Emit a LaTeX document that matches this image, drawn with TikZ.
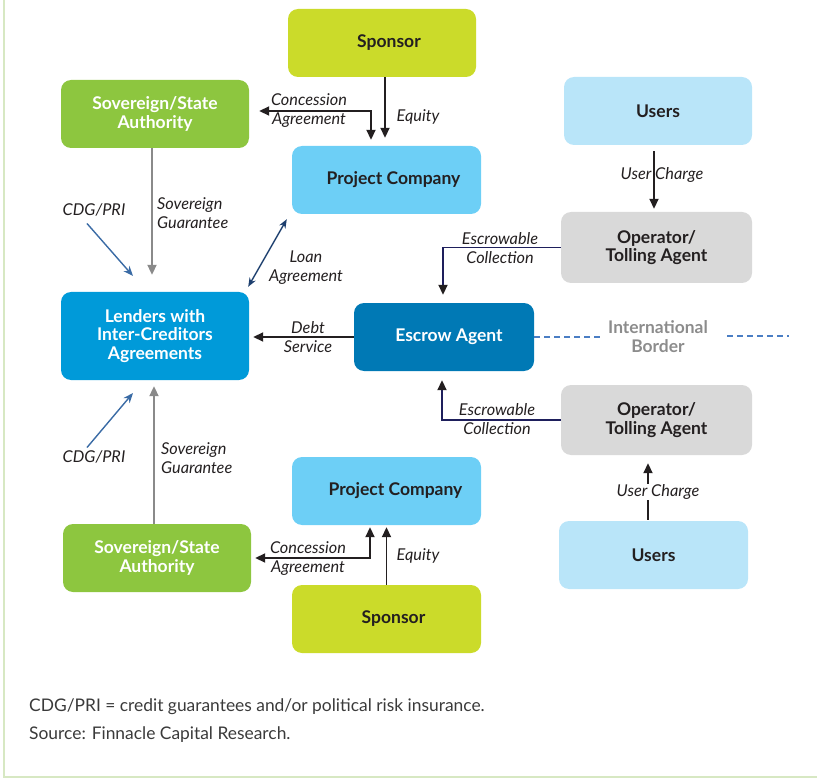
\documentclass[tikz,border=0pt]{standalone}
\usepackage{fontspec}
\setmainfont{Lato}
\usetikzlibrary{arrows.meta,calc}

\definecolor{ink}{HTML}{231F20}
\definecolor{sponsorC}{HTML}{CBDB2A}
\definecolor{sovC}{HTML}{8DC63F}
\definecolor{pcC}{HTML}{6DCFF6}
\definecolor{usersC}{HTML}{B9E5F9}
\definecolor{opC}{HTML}{D9D9D9}
\definecolor{lendC}{HTML}{009AD9}
\definecolor{escC}{HTML}{0079B5}
\definecolor{guarC}{HTML}{8A8A8A}
\definecolor{cdgC}{HTML}{3A6BA5}
\definecolor{loanC}{HTML}{1D3F6E}
\definecolor{navyC}{HTML}{1E1F5C}
\definecolor{borderC}{HTML}{8C8C8C}
\definecolor{dashC}{HTML}{4A7EC4}
\definecolor{frameC}{HTML}{D7E8C3}
\definecolor{footC}{HTML}{3A3A3A}

\begin{document}
\begin{tikzpicture}[x=1pt,y=-1pt,
  box/.style={rounded corners=10pt, minimum width=188pt, minimum height=68pt,
    align=center, inner sep=0pt, text=ink,
    font=\bfseries\fontsize{17.5}{18.5}\selectfont},
  lbl/.style={font=\itshape\fontsize{16.3}{19}\selectfont, text=ink,
    align=center, inner sep=1pt},
  arr/.style={draw=ink, line width=1.8pt, -{Triangle[length=10pt,width=9pt]}},
  arrboth/.style={draw=ink, line width=1.8pt,
    {Triangle[length=10pt,width=9pt]}-{Triangle[length=10pt,width=9pt]}},
  garr/.style={draw=guarC, line width=2pt, -{Triangle[length=10pt,width=9pt]}},
  barr/.style={draw=cdgC, line width=1.4pt, -{Stealth[length=10pt,width=8pt]}},
  larr/.style={draw=loanC, line width=1.4pt,
    {Stealth[length=9pt,width=7pt]}-{Stealth[length=9pt,width=7pt]}},
  narr/.style={draw=navyC, line width=1.8pt,
    -{Triangle[length=10pt,width=9pt,color=ink]}},
  dashline/.style={draw=dashC, line width=1.6pt, dash pattern=on 6pt off 4pt},
  foot/.style={anchor=base west, inner sep=0pt, text=footC,
    font=\fontsize{17.4}{18}\selectfont},
]
\useasboundingbox (0,0) rectangle (817,778);

% frame of the figure
\draw[frameC, line width=2pt] (4,0) -- (4,777) -- (817,777);

% upper half
\node[box, fill=sponsorC] (sponsorT) at (382,43) {\hspace*{14pt}Sponsor};
\node[box, fill=sovC, text=white] (sovT) at (155,114) {Sovereign/State\\Authority};
\node[box, fill=pcC, minimum width=189pt] (pcT) at (386.5,180) {\hspace*{14pt}Project Company};
\node[box, fill=usersC] (usersT) at (658,111) {Users};
\node[box, fill=opC, minimum width=191pt, minimum height=71pt] (opT) at (656.5,247.5) {Operator/\\Tolling Agent};

% middle
\node[box, fill=lendC, text=white, minimum height=88pt] (lenders) at (155,336) {Lenders with\\Inter-Creditors\\Agreements};
\node[box, fill=escC, text=white, minimum width=180pt] (escrow) at (444,337) {\hspace*{10pt}Escrow Agent};
\node[text=borderC, align=center, inner sep=1pt,
  font=\bfseries\fontsize{17.4}{19}\selectfont] (border) at (658,337) {International\\Border};
\coordinate (borderEnd) at (789,336);

% lower half
\node[box, fill=opC, minimum width=191pt, minimum height=70pt] (opB) at (656.5,420) {Operator/\\Tolling Agent};
\node[box, fill=usersC, minimum width=189pt] (usersB) at (653.5,555) {Users};
\node[box, fill=pcC, minimum width=189pt] (pcB) at (386.5,491) {\hspace*{18pt}Project Company};
\node[box, fill=sovC, text=white] (sovB) at (157,558) {Sovereign/State\\Authority};
\node[box, fill=sponsorC, minimum width=189pt] (sponsorB) at (386.5,619) {\hspace*{14pt}Sponsor};

% border line
\draw[dashline] (escrow.east) -- ($(border.west)+(-6,0)$);
\draw[dashline] ($(border.east)+(18,-1)$) -- (borderEnd);

% upper connectors
\draw[arr] ($(sponsorT.south)+(3,0)$) -- ($(pcT.north)+(-1.5,-8)$);
\node[lbl] (eqT) at (418,117) {Equity};
\draw[arrboth] ($(sovT.east)+(10,-3)$) -| ($(pcT.north)+(-15.5,-6)$);
\node[lbl] (concT) at (309,111) {Concession\\Agreement};
\draw[garr] ($(sovT.south)+(-3,0)$) -- ($(lenders.north)+(-3,-17)$);
\node[lbl, align=left, anchor=west] (sgT) at (156,213) {Sovereign\\Guarantee};
\node[lbl] (cdgT) at (94,210) {CDG/PRI};
\coordinate (cdgTend) at (133,276);
\draw[barr] ($(cdgT.south)+(-7,6)$) -- (cdgTend);
\draw[larr] ($(pcT.south west)+(-5,5)$) -- ($(lenders.north east)+(-1,-5)$);
\node[lbl] (loan) at (306,268) {Loan\\Agreement};
\draw[arr, shorten >=4pt] (escrow.west) -- (escrow.west -| lenders.east);
\node[lbl] (debt) at (308,337) {Debt\\Service};
\draw[narr, shorten >=8pt] (opT.west) -| ($(escrow.north)+(-1,0)$);
\node[lbl] (escT) at (500,248) {Escrowable\\Collection};
\draw[arr] ($(usersT.south)+(-4,6)$) -- ($(opT.north)+(-2.5,-3)$);
\node[lbl] (ucT) at (662,175) {User Charge};

% lower connectors
\draw[narr, shorten >=9pt] (opB.west) -| ($(escrow.south)+(-2,0)$);
\node[lbl] (escB) at (497,419) {Escrowable\\Collection};
\draw[arr] ($(usersB.north)+(-5.5,-1)$) -- ($(opB.south)+(-8.5,8)$);
\node[lbl, fill=white] (ucB) at (658,492) {User Charge};
\node[lbl] (cdgB) at (94,457) {CDG/PRI};
\coordinate (cdgBend) at (133,393);
\draw[barr] ($(cdgB.north)+(-7,-2)$) -- (cdgBend);
\draw[garr] ($(sovB.north)+(-3,0)$) -- ($(lenders.south)+(-1,6)$);
\node[lbl, align=left, anchor=west] (sgB) at (160,458) {Sovereign\\Guarantee};
\draw[arrboth] ($(sovB.east)+(4,0)$) -| ($(pcB.south)+(-16.5,2)$);
\node[lbl] (concB) at (308,559) {Concession\\Agreement};
\draw[arr] (sponsorB.north) -- ($(pcB.south)+(0,2)$);
\node[lbl] (eqB) at (418,556) {Equity};

% notes
\node[foot] (note) at (29,711) {CDG/PRI = credit guarantees and/or political risk insurance.};
\node[foot] (source) at (29,739) {Source: Finnacle Capital Research.};
\end{tikzpicture}
\end{document}
